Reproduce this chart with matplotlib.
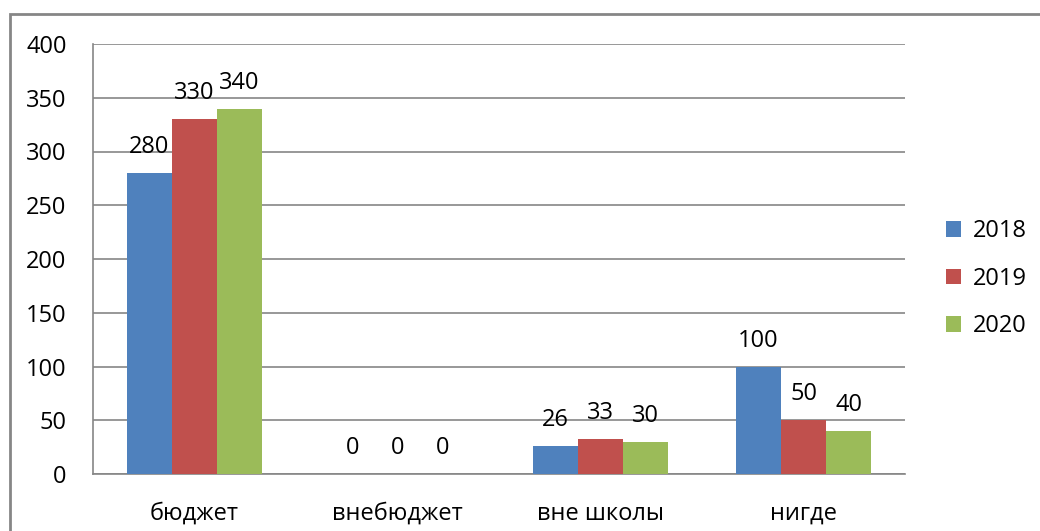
import matplotlib.pyplot as plt
import numpy as np
from matplotlib.patches import Rectangle

plt.rcParams['font.family'] = ['Open Sans', 'DejaVu Sans']

categories = ['бюджет', 'внебюджет', 'вне школы', 'нигде']
years = ['2018', '2019', '2020']
v2018 = [280, 0, 26, 100]
v2019 = [330, 0, 33, 50]
v2020 = [340, 0, 30, 40]
series = [v2018, v2019, v2020]
colors = ['#4F81BD', '#C0504D', '#9BBB59']

W, H = 1040, 531
fig = plt.figure(figsize=(W / 100, H / 100), dpi=100)

# outer chart border (cut off at right and bottom)
fig.patches.append(Rectangle((10 / W, -0.1), 1.2, (H - 14) / H + 0.1,
                             transform=fig.transFigure, fill=False,
                             edgecolor='#868686', linewidth=2))

ax = fig.add_axes((93 / W, (H - 474) / H, (905 - 93) / W, (474 - 44) / H))

x = np.arange(len(categories))
bw = 0.222
for i, (vals, c, lab) in enumerate(zip(series, colors, years)):
    pos = x + (i - 1) * bw
    ax.bar(pos, vals, width=bw, color=c, label=lab, zorder=3)
    for p, v in zip(pos, vals):
        ax.text(p, v + 13, str(v), ha='center', va='bottom', fontsize=17, zorder=4)

ax.set_xlim(-0.5, 3.5)
ax.set_ylim(0, 400)
ax.set_yticks(range(0, 401, 50))
ax.set_xticks(x)
ax.set_xticklabels(categories)
ax.grid(axis='y', color='#868686', linewidth=1.2, zorder=0)
ax.tick_params(axis='both', length=0, labelsize=17)
ax.tick_params(axis='y', pad=19)
ax.tick_params(axis='x', pad=20)
for s in ['top', 'right']:
    ax.spines[s].set_visible(False)
for s in ['left', 'bottom']:
    ax.spines[s].set_color('#868686')
    ax.spines[s].set_linewidth(1.2)

fig.legend(loc='center left', bbox_to_anchor=(0.889, 0.475), frameon=False,
           fontsize=17, handlelength=0.65, handleheight=0.65, handletextpad=0.5,
           labelspacing=1.0)

fig.savefig('out.png', dpi=100)
